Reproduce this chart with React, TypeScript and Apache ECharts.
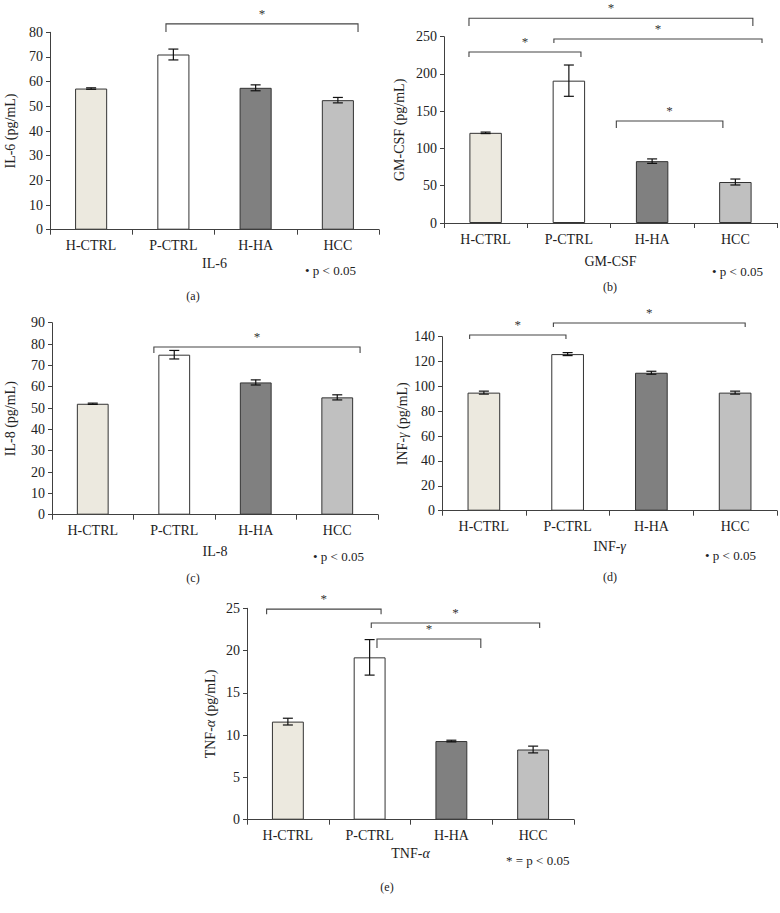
import React, { useEffect, useRef } from 'react';
import * as echarts from 'echarts';

const FONT = '"Liberation Serif", "Times New Roman", serif';
const TEXT = '#222222';
const AXIS = '#404040';
const FS = 14;

const CATEGORIES = ['H-CTRL', 'P-CTRL', 'H-HA', 'HCC'];
const BAR_COLORS = ['#ECE9DF', '#FFFFFF', '#808080', '#C0C0C0'];

// values (pg/mL) and error (± half-range)
const IL6 = [57.2, 71.0, 57.5, 52.5];
const IL6_ERR = [0.3, 2.2, 1.2, 1.1];
const GMCSF = [121, 191, 83, 55];
const GMCSF_ERR = [1, 21, 3, 4];
const IL8 = [52, 75, 62, 55];
const IL8_ERR = [0.3, 2.0, 1.2, 1.2];
const INFG = [95, 126, 111, 95];
const INFG_ERR = [1.2, 1.2, 1.2, 1.2];
const TNFA = [11.6, 19.2, 9.3, 8.3];
const TNFA_ERR = [0.4, 2.1, 0.1, 0.4];

// significance brackets: [fromCat, fromOffset(band), toCat, toOffset(band), yTop, yEnd]
const IL6_BRACKETS = [[1, -0.09, 3, 0.245, 83.4, 80.1]];
const GMCSF_BRACKETS = [
  [0, -0.2, 3, 0.21, 274.7, 264.4],
  [1, -0.18, 3, 0.32, 246.9, 241.5],
  [0, -0.2, 1, 0.145, 229.5, 222.8],
  [2, -0.43, 3, -0.15, 136.9, 127.5],
];
const IL8_BRACKETS = [[1, -0.25, 3, 0.28, 78.6, 75.8]];
const INFG_BRACKETS = [
  [0, -0.17, 1, -0.02, 141.4, 138.1],
  [1, -0.17, 3, 0.12, 151.0, 147.8],
];
const TNFA_BRACKETS = [
  [0, -0.26, 1, 0.14, 24.9, 24.3],
  [1, 0.02, 3, 0.08, 23.26, 22.67],
  [1, 0.09, 2, 0.36, 21.37, 20.3],
];

const Y_MAX = [80, 250, 90, 140, 25];
const Y_INTERVAL = [10, 50, 10, 20, 5];
const Y_NAMES = ['IL-6 (pg/mL)', 'GM-CSF (pg/mL)', 'IL-8 (pg/mL)', 'INF-{i|γ} (pg/mL)', 'TNF-{i|α} (pg/mL)'];
const X_NAMES = ['IL-6', 'GM-CSF', 'IL-8', 'INF-{i|γ}', 'TNF-{i|α}'];
const PANEL_LABELS = ['(a)', '(b)', '(c)', '(d)', '(e)'];
const P_NOTES = ['• p < 0.05', '• p < 0.05', '• p < 0.05', '• p < 0.05', '* = p < 0.05'];

const VALUES = [IL6, GMCSF, IL8, INFG, TNFA];
const ERRORS = [IL6_ERR, GMCSF_ERR, IL8_ERR, INFG_ERR, TNFA_ERR];
const BRACKETS = [IL6_BRACKETS, GMCSF_BRACKETS, IL8_BRACKETS, INFG_BRACKETS, TNFA_BRACKETS];

// layout
const GRIDS = [
  { left: 50, top: 32.3, width: 329, height: 197.4 },
  { left: 444, top: 36.7, width: 333, height: 186.3 },
  { left: 52, top: 322.7, width: 326, height: 192 },
  { left: 442, top: 336.7, width: 335, height: 174 },
  { left: 247, top: 608.3, width: 327, height: 211.4 },
];
const Y_NAME_GAP = [33, 38, 35, 33, 30];
const X_NAME_GAP = [27, 31, 30, 29, 27];
const NOTE_POS = [[305, 272], [712, 273], [313, 558], [705, 557], [506, 862]];
const LABEL_POS = [[193, 296], [610, 287], [193, 578], [610, 577], [387, 887]];

const richItalic = { i: { fontStyle: 'italic', fontFamily: FONT, fontSize: FS, color: TEXT } };

function buildOption() {
  const xAxis: any[] = [];
  const yAxis: any[] = [];
  const series: any[] = [];
  const graphic: any[] = [];

  GRIDS.forEach((g, p) => {
    xAxis.push({
      type: 'category',
      gridIndex: p,
      data: CATEGORIES,
      name: X_NAMES[p],
      nameLocation: 'middle',
      nameGap: X_NAME_GAP[p],
      nameTextStyle: { fontFamily: FONT, fontSize: FS, color: TEXT, rich: richItalic },
      axisLine: { show: true, lineStyle: { color: AXIS, width: 1 } },
      axisTick: { show: true, length: 5, lineStyle: { color: AXIS } },
      axisLabel: { fontFamily: FONT, fontSize: FS, color: TEXT, margin: 9 },
      splitLine: { show: false },
    });
    yAxis.push({
      type: 'value',
      gridIndex: p,
      min: 0,
      max: Y_MAX[p],
      interval: Y_INTERVAL[p],
      name: Y_NAMES[p],
      nameLocation: 'middle',
      nameGap: Y_NAME_GAP[p],
      nameTextStyle: { fontFamily: FONT, fontSize: FS, color: TEXT, rich: richItalic },
      axisLine: { show: true, lineStyle: { color: AXIS, width: 1 } },
      axisTick: { show: true, length: 4, lineStyle: { color: AXIS } },
      axisLabel: { fontFamily: FONT, fontSize: FS, color: TEXT, margin: 7 },
      splitLine: { show: false },
    });

    series.push({
      type: 'bar',
      xAxisIndex: p,
      yAxisIndex: p,
      barWidth: '39%',
      data: VALUES[p].map((v, i) => ({ value: v, itemStyle: { color: BAR_COLORS[i] } })),
      itemStyle: { borderColor: '#333333', borderWidth: 1 },
      z: 2,
    });

    series.push({
      type: 'custom',
      xAxisIndex: p,
      yAxisIndex: p,
      z: 4,
      encode: { x: 0, y: [1, 2] },
      data: VALUES[p].map((v, i) => [i, v - ERRORS[p][i], v + ERRORS[p][i]]),
      renderItem: (params: any, api: any) => {
        const x = api.value(0);
        const lo = api.coord([x, api.value(1)]);
        const hi = api.coord([x, api.value(2)]);
        const w = 5;
        const style = { stroke: '#111111', lineWidth: 1.2 };
        return {
          type: 'group',
          children: [
            { type: 'line', shape: { x1: lo[0], y1: lo[1], x2: hi[0], y2: hi[1] }, style },
            { type: 'line', shape: { x1: lo[0] - w, y1: lo[1], x2: lo[0] + w, y2: lo[1] }, style },
            { type: 'line', shape: { x1: hi[0] - w, y1: hi[1], x2: hi[0] + w, y2: hi[1] }, style },
          ],
        };
      },
    });

    series.push({
      type: 'custom',
      xAxisIndex: p,
      yAxisIndex: p,
      z: 5,
      clip: false,
      encode: { x: 0, y: 4 },
      data: BRACKETS[p],
      renderItem: (params: any, api: any) => {
        const bw = api.size([1, 0])[0];
        const a = api.coord([api.value(0), api.value(4)]);
        const b = api.coord([api.value(2), api.value(4)]);
        const x1 = a[0] + api.value(1) * bw;
        const x2 = b[0] + api.value(3) * bw;
        const yTop = a[1];
        const yEnd = api.coord([api.value(0), api.value(5)])[1];
        return {
          type: 'group',
          children: [
            {
              type: 'polyline',
              shape: { points: [[x1, yEnd], [x1, yTop], [x2, yTop], [x2, yEnd]] },
              style: { stroke: '#444444', lineWidth: 1.1, fill: 'none' },
            },
            {
              type: 'text',
              x: (x1 + x2) / 2,
              y: yTop - 4,
              style: {
                text: '*',
                align: 'center',
                verticalAlign: 'bottom',
                fontFamily: 'Liberation Serif',
                fontSize: 13,
                fill: '#333333',
              },
            },
          ],
        };
      },
    });

    graphic.push({
      type: 'text',
      left: NOTE_POS[p][0],
      top: NOTE_POS[p][1] - 8,
      style: { text: P_NOTES[p], fontFamily: 'Liberation Serif', fontSize: 13, fill: TEXT },
    });
    graphic.push({
      type: 'text',
      x: LABEL_POS[p][0],
      y: LABEL_POS[p][1],
      style: { text: PANEL_LABELS[p], fontFamily: 'Liberation Serif', fontSize: 12, fill: TEXT, align: 'center', verticalAlign: 'middle' },
    });
  });

  return {
    animation: false,
    backgroundColor: '#ffffff',
    grid: GRIDS.map((g) => ({ ...g, containLabel: false })),
    xAxis,
    yAxis,
    series,
    graphic,
  };
}

export default function App() {
  const ref = useRef<HTMLDivElement>(null);
  useEffect(() => {
    const chart = echarts.init(ref.current as HTMLDivElement, null, { renderer: 'svg' });
    chart.setOption(buildOption() as any);
    return () => chart.dispose();
  }, []);
  return (
    <div
      ref={ref}
      style={{ position: 'fixed', left: 0, top: 0, width: 780, height: 913, background: '#fff' }}
    />
  );
}
